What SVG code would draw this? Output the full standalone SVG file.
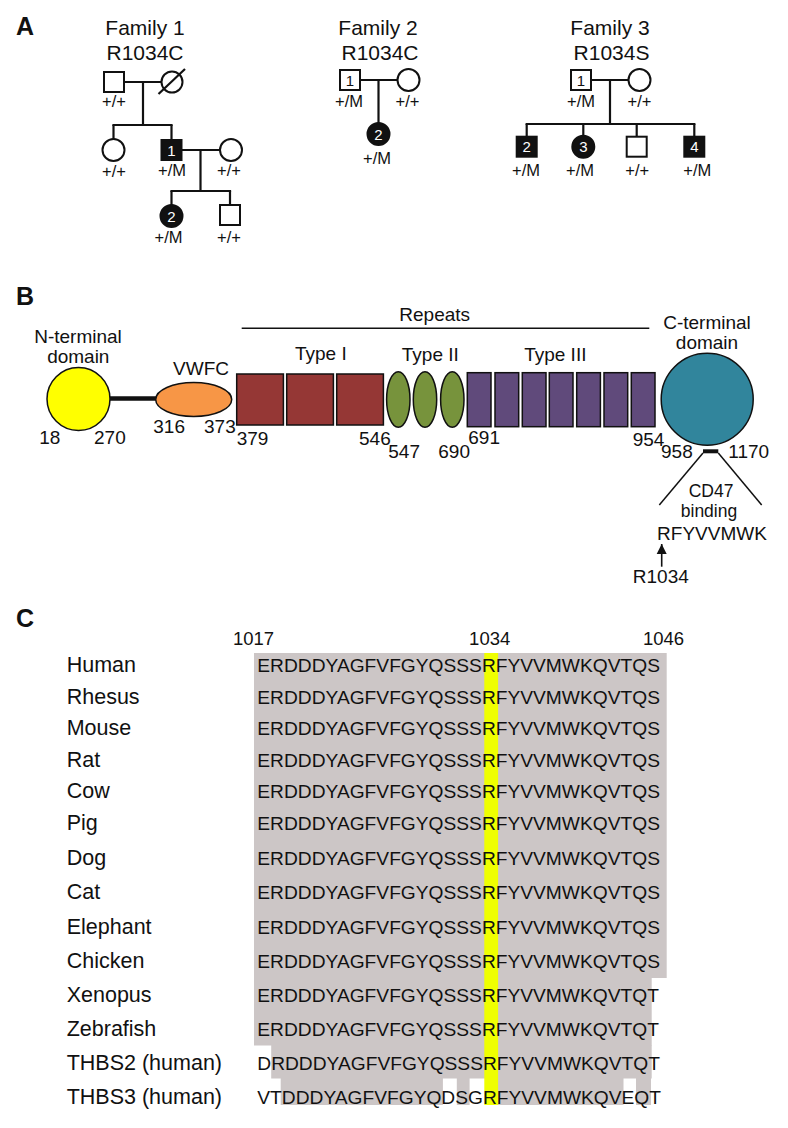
<svg xmlns="http://www.w3.org/2000/svg" width="788" height="1128" viewBox="0 0 788 1128">
<style>
text{font-family:"Liberation Sans",Arial,sans-serif;fill:#111}
.pl{font-weight:bold;font-size:25px}
.fam{font-size:21px;text-anchor:middle}
.gt{font-size:16.5px;text-anchor:middle}
.num{font-size:15px;text-anchor:middle}
.wn{fill:#fff}
.sym{fill:#fff;stroke:#111;stroke-width:2}
.aff{fill:#111;stroke:#111;stroke-width:2}
.ln{stroke:#111;stroke-width:2.2;fill:none}
.b{font-size:19px}
.bm{font-size:19px;text-anchor:middle}
.bs{font-size:17.5px;text-anchor:middle}
.dom{stroke:#111;stroke-width:1.5}
.seq{font-size:19.2px}
.lab{font-size:21.5px}
.idx{font-size:18.5px}
.gray{fill:#ccc6c6}
</style>
<defs>
<marker id="ah" viewBox="0 0 10 10" refX="10" refY="5" markerWidth="10" markerHeight="11" markerUnits="userSpaceOnUse" orient="auto">
<path d="M0,0 L10,5 L0,10 Z" fill="#111"/>
</marker>
</defs>

<!-- Panel A -->
<text class="pl" x="16" y="35">A</text>
<g id="family1-title"><text class="fam" x="145" y="35">Family 1</text><text class="fam" x="145" y="60">R1034C</text></g>
<g id="family2-title"><text class="fam" x="378" y="35">Family 2</text><text class="fam" x="380" y="60">R1034C</text></g>
<g id="family3-title"><text class="fam" x="610" y="35">Family 3</text><text class="fam" x="611.5" y="60">R1034S</text></g>

<g id="connectors">
<!-- family 1 -->
<line class="ln" x1="124" y1="82" x2="161.5" y2="82"/>
<line class="ln" x1="143" y1="82" x2="143" y2="125"/>
<line class="ln" x1="112.4" y1="125" x2="172.6" y2="125"/>
<line class="ln" x1="113.5" y1="125" x2="113.5" y2="139"/>
<line class="ln" x1="171.5" y1="125" x2="171.5" y2="140"/>
<line class="ln" x1="181.5" y1="150" x2="220" y2="150"/>
<line class="ln" x1="200.5" y1="150" x2="200.5" y2="191"/>
<line class="ln" x1="170.4" y1="191" x2="231.1" y2="191"/>
<line class="ln" x1="171.5" y1="191" x2="171.5" y2="205"/>
<line class="ln" x1="230" y1="191" x2="230" y2="205"/>
<!-- family 2 -->
<line class="ln" x1="360" y1="80" x2="397.5" y2="80"/>
<line class="ln" x1="378.5" y1="80" x2="378.5" y2="123"/>
<!-- family 3 -->
<line class="ln" x1="591" y1="80" x2="628.5" y2="80"/>
<line class="ln" x1="610" y1="80" x2="610" y2="124"/>
<line class="ln" x1="525.6" y1="124" x2="695.4" y2="124"/>
<line class="ln" x1="526.7" y1="124" x2="526.7" y2="136.7"/>
<line class="ln" x1="583.3" y1="124" x2="583.3" y2="135.7"/>
<line class="ln" x1="636.7" y1="124" x2="636.7" y2="136.7"/>
<line class="ln" x1="694.3" y1="124" x2="694.3" y2="136.7"/>
<!-- panel B connectors -->
<line x1="110" y1="398.5" x2="156" y2="398.5" stroke="#111" stroke-width="4.5"/>
<line x1="241.7" y1="328.3" x2="649.3" y2="328.3" stroke="#111" stroke-width="1.6"/>
<line x1="703" y1="451.3" x2="718.3" y2="451.3" stroke="#111" stroke-width="4"/>
<line x1="703" y1="453" x2="659.3" y2="505" stroke="#111" stroke-width="1.5"/>
<line x1="718.3" y1="453" x2="761.7" y2="505" stroke="#111" stroke-width="1.5"/>
<line x1="661.7" y1="566.7" x2="661.7" y2="544" stroke="#111" stroke-width="1.6" marker-end="url(#ah)"/>
</g>

<g id="f1-father"><rect class="sym" x="104" y="72" width="20" height="20"/><text class="gt" x="114" y="107">+/+</text></g>
<g id="f1-mother"><circle class="sym" cx="172" cy="82" r="10.5"/><line class="ln" x1="158.5" y1="94" x2="185" y2="69"/></g>
<g id="f1-daughter"><circle class="sym" cx="113.5" cy="150" r="11"/><text class="gt" x="114" y="177">+/+</text></g>
<g id="f1-son1"><rect class="aff" x="161.5" y="140" width="20" height="20"/><text class="num wn" x="171.5" y="155.5">1</text><text class="gt" x="172" y="176">+/M</text></g>
<g id="f1-spouse"><circle class="sym" cx="231" cy="150" r="11"/><text class="gt" x="229" y="176">+/+</text></g>
<g id="f1-gc2"><circle class="aff" cx="171.5" cy="216" r="11"/><text class="num wn" x="171.5" y="221.5">2</text><text class="gt" x="168.5" y="243">+/M</text></g>
<g id="f1-gcson"><rect class="sym" x="220" y="205" width="20" height="20"/><text class="gt" x="229" y="243">+/+</text></g>

<g id="f2-father"><rect class="sym" x="340" y="70" width="20" height="20"/><text class="num" x="350" y="85.5">1</text><text class="gt" x="349" y="107">+/M</text></g>
<g id="f2-mother"><circle class="sym" cx="408.5" cy="80" r="11"/><text class="gt" x="407.5" y="107">+/+</text></g>
<g id="f2-daughter"><circle class="aff" cx="378.5" cy="134" r="11"/><text class="num wn" x="378.5" y="139.5">2</text><text class="gt" x="377" y="163.5">+/M</text></g>

<g id="f3-father"><rect class="sym" x="571" y="70" width="20" height="20"/><text class="num" x="581" y="85.5">1</text><text class="gt" x="581" y="107">+/M</text></g>
<g id="f3-mother"><circle class="sym" cx="639.5" cy="80" r="11"/><text class="gt" x="639.5" y="107">+/+</text></g>
<g id="f3-c2"><rect class="aff" x="516.7" y="136.7" width="20" height="20"/><text class="num wn" x="526.7" y="152.2">2</text><text class="gt" x="526" y="176">+/M</text></g>
<g id="f3-c3"><circle class="aff" cx="583.3" cy="146.7" r="11"/><text class="num wn" x="583.3" y="152.2">3</text><text class="gt" x="580" y="176">+/M</text></g>
<g id="f3-c-unaff"><rect class="sym" x="626.7" y="136.7" width="20" height="20"/><text class="gt" x="637.3" y="176">+/+</text></g>
<g id="f3-c4"><rect class="aff" x="684.3" y="136.7" width="20" height="20"/><text class="num wn" x="694.3" y="152.2">4</text><text class="gt" x="697.3" y="176">+/M</text></g>

<!-- Panel B -->
<text class="pl" x="16" y="305">B</text>
<g id="n-terminal"><circle class="dom" cx="78.5" cy="399" r="31.5" fill="#ffff00"/><text class="bm" x="78" y="343">N-terminal</text><text class="bm" x="78.3" y="363">domain</text><text class="b" x="39.3" y="444">18</text><text class="b" x="94" y="444">270</text></g>
<g id="vwfc"><ellipse class="dom" cx="193.7" cy="399.5" rx="38" ry="17" fill="#f79646"/><text class="bm" x="201" y="375">VWFC</text><text class="b" x="153.3" y="433.3">316</text><text class="b" x="204" y="433.3">373</text></g>
<g id="repeats-label"><text class="bm" x="434.7" y="320.7">Repeats</text></g>
<g id="type1" fill="#953735"><rect class="dom" x="236.7" y="374" width="46.7" height="51"/><rect class="dom" x="286.7" y="374" width="46.7" height="51"/><rect class="dom" x="336.7" y="374" width="46.7" height="51"/><text class="bm" x="320.8" y="360">Type I</text><text class="b" x="236.7" y="445">379</text><text class="b" x="359" y="445">546</text></g>
<g id="type2" fill="#77933c"><ellipse class="dom" cx="398.3" cy="399.5" rx="11.7" ry="27.8"/><ellipse class="dom" cx="425" cy="399.5" rx="11.7" ry="27.8"/><ellipse class="dom" cx="452.3" cy="399.5" rx="11.7" ry="27.8"/><text class="bm" x="430.3" y="361">Type II</text><text class="b" x="388.3" y="458.3">547</text><text class="b" x="438.3" y="458.3">690</text></g>
<g id="type3" fill="#604a7b"><rect class="dom" x="467.3" y="372.7" width="23.7" height="54"/><rect class="dom" x="495" y="372.7" width="23.7" height="54"/><rect class="dom" x="522.3" y="372.7" width="23.7" height="54"/><rect class="dom" x="549.3" y="372.7" width="23.7" height="54"/><rect class="dom" x="576.7" y="372.7" width="23.7" height="54"/><rect class="dom" x="604" y="372.7" width="23.7" height="54"/><rect class="dom" x="631.3" y="372.7" width="23.7" height="54"/><text class="bm" x="555.3" y="361">Type III</text><text class="b" x="468.3" y="444">691</text><text class="b" x="632.7" y="445.7">954</text></g>
<g id="c-terminal"><circle class="dom" cx="707.2" cy="399.2" r="46" fill="#31859c"/><text class="bm" x="707" y="329.3">C-terminal</text><text class="bm" x="707" y="349.3">domain</text><text class="b" x="661" y="457.7">958</text><text class="b" x="728.3" y="457.7">1170</text></g>
<g id="cd47"><text class="bs" x="711" y="496.5">CD47</text><text class="bs" x="709" y="516.5">binding</text><text class="bm" x="712" y="540">RFYVVMWK</text><text class="bm" x="660.8" y="582.7">R1034</text></g>

<!-- Panel C -->
<text class="pl" x="16" y="627">C</text>
<g id="alignment-shading">
<rect class="gray" x="254" y="653" width="412.7" height="325"/>
<rect class="gray" x="254" y="977.5" width="397.7" height="68"/>
<rect class="gray" x="271.2" y="1045" width="380.5" height="33.5"/>
<rect class="gray" x="280.7" y="1078" width="162.2" height="27"/>
<rect class="gray" x="456.8" y="1078" width="12.8" height="27"/>
<rect class="gray" x="498" y="1078" width="125.5" height="27"/>
<rect class="gray" x="636" y="1078" width="15" height="27"/>
<rect x="484.3" y="653" width="13.8" height="452" fill="#efff00"/>
</g>
<g id="positions"><text class="idx" x="233" y="645">1017</text><text class="idx" x="489.7" y="645" text-anchor="middle">1034</text><text class="idx" x="643" y="645">1046</text></g>
<g id="species-labels" class="lab">
<text class="lab" x="66.7" y="672">Human</text>
<text class="lab" x="66.7" y="703.5">Rhesus</text>
<text class="lab" x="66.7" y="735">Mouse</text>
<text class="lab" x="66.7" y="766.5">Rat</text>
<text class="lab" x="66.7" y="798">Cow</text>
<text class="lab" x="66.7" y="829.5">Pig</text>
<text class="lab" x="66.7" y="865">Dog</text>
<text class="lab" x="66.7" y="899">Cat</text>
<text class="lab" x="66.7" y="934">Elephant</text>
<text class="lab" x="66.7" y="968">Chicken</text>
<text class="lab" x="66.7" y="1001.5">Xenopus</text>
<text class="lab" x="66.7" y="1036">Zebrafish</text>
<text class="lab" x="66.7" y="1070">THBS2 (human)</text>
<text class="lab" x="66.7" y="1104">THBS3 (human)</text>
</g>
<g id="sequences">
<text class="seq" x="257.3" y="672">ERDDDYAGFVFGYQSSSRFYVVMWKQVTQS</text>
<text class="seq" x="257.3" y="703.5">ERDDDYAGFVFGYQSSSRFYVVMWKQVTQS</text>
<text class="seq" x="257.3" y="735">ERDDDYAGFVFGYQSSSRFYVVMWKQVTQS</text>
<text class="seq" x="257.3" y="766.5">ERDDDYAGFVFGYQSSSRFYVVMWKQVTQS</text>
<text class="seq" x="257.3" y="798">ERDDDYAGFVFGYQSSSRFYVVMWKQVTQS</text>
<text class="seq" x="257.3" y="829.5">ERDDDYAGFVFGYQSSSRFYVVMWKQVTQS</text>
<text class="seq" x="257.3" y="865">ERDDDYAGFVFGYQSSSRFYVVMWKQVTQS</text>
<text class="seq" x="257.3" y="899">ERDDDYAGFVFGYQSSSRFYVVMWKQVTQS</text>
<text class="seq" x="257.3" y="934">ERDDDYAGFVFGYQSSSRFYVVMWKQVTQS</text>
<text class="seq" x="257.3" y="968">ERDDDYAGFVFGYQSSSRFYVVMWKQVTQS</text>
<text class="seq" x="257.3" y="1001.5">ERDDDYAGFVFGYQSSSRFYVVMWKQVTQT</text>
<text class="seq" x="257.3" y="1036">ERDDDYAGFVFGYQSSSRFYVVMWKQVTQT</text>
<text class="seq" x="257.3" y="1070">DRDDDYAGFVFGYQSSSRFYVVMWKQVTQT</text>
<text class="seq" x="257.3" y="1104">VTDDDYAGFVFGYQDSGRFYVVMWKQVEQT</text>
</g>
</svg>
